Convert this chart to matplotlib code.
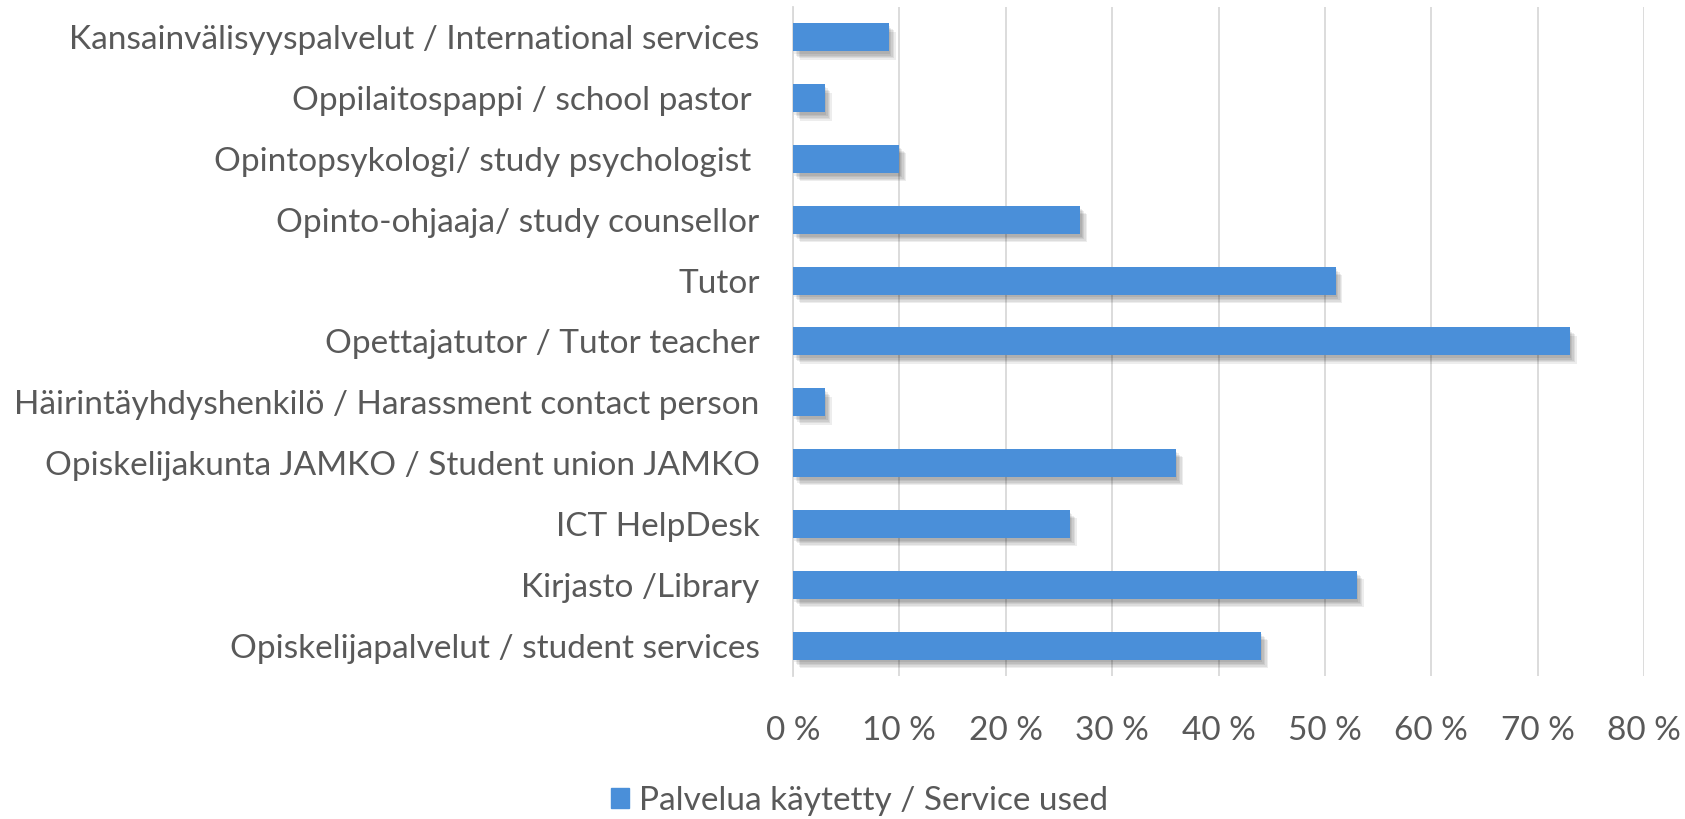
import matplotlib
matplotlib.use("Agg")
import matplotlib.pyplot as plt
import matplotlib.patheffects as pe
from matplotlib.patches import Patch

# data (bottom to top, as drawn)
services = [
    "Opiskelijapalvelut / student services",
    "Kirjasto /Library",
    "ICT HelpDesk",
    "Opiskelijakunta JAMKO / Student union JAMKO",
    "Häirintäyhdyshenkilö / Harassment contact person",
    "Opettajatutor / Tutor teacher",
    "Tutor",
    "Opinto-ohjaaja/ study counsellor",
    "Opintopsykologi/ study psychologist ",
    "Oppilaitospappi / school pastor ",
    "Kansainvälisyyspalvelut / International services",
]
used_pct = [44, 53, 26, 36, 3, 73, 51, 27, 10, 3, 9]
xticks = [0, 10, 20, 30, 40, 50, 60, 70, 80]
legend_label = "Palvelua käytetty / Service used"

plt.rcParams['font.family'] = ['Lato', 'DejaVu Sans']
text_col = '#595959'
bar_col = '#4a8fd9'
fs = 24

fig = plt.figure(figsize=(16.85, 8.19), dpi=100)
ax = fig.add_axes([0.4706, 0.1746, 0.5051, 0.8169])

bars = ax.barh(range(len(services)), used_pct, height=0.46, color=bar_col, zorder=3)
# soft shadow, a few faint layers
shadow = [pe.SimplePatchShadow(offset=(d, -d - 1), shadow_rgbFace='black', alpha=0.07)
          for d in (1, 2, 3, 4, 5)]
for b in bars:
    b.set_path_effects(shadow + [pe.Normal()])

ax.set_xlim(0, 80)
ax.set_ylim(-0.5, len(services) - 0.5)
ax.set_yticks(range(len(services)))
ax.set_yticklabels(services, fontsize=fs, color=text_col)
ax.set_xticks(xticks)
ax.set_xticklabels([f"{t} %" for t in xticks], fontsize=fs, color=text_col)
ax.tick_params(axis='both', length=0)
ax.tick_params(axis='y', pad=24)
ax.tick_params(axis='x', pad=29)

ax.grid(axis='x', color='#d9d9d9', linewidth=1.3, zorder=0)
for s in ['top', 'right', 'bottom']:
    ax.spines[s].set_visible(False)
ax.spines['left'].set_color('#d9d9d9')
ax.spines['left'].set_linewidth(1.3)

fig.legend(handles=[Patch(color=bar_col, label=legend_label)], loc='center',
           bbox_to_anchor=(0.51, 0.022), frameon=False, fontsize=fs,
           labelcolor=text_col, handlelength=0.55, handleheight=0.55, handletextpad=0.3)

fig.savefig("out.png", dpi=100)
